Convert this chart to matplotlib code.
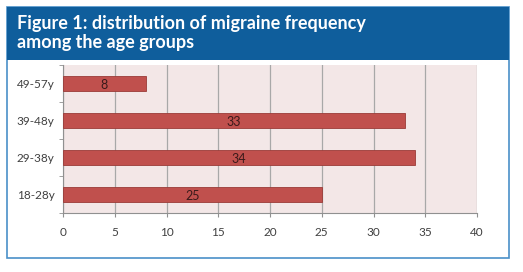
import matplotlib.pyplot as plt
from matplotlib.patches import Rectangle
import numpy as np

# data
age_groups = ["18-28y", "29-38y", "39-48y", "49-57y"]
counts = [25, 34, 33, 8]
x_ticks = [0, 5, 10, 15, 20, 25, 30, 35, 40]

W, H = 523, 272
fig = plt.figure(figsize=(W / 100, H / 100), dpi=100)
fig.patch.set_facecolor("white")

def fx(px):
    return px / W

def fy(py):
    return 1 - py / H

# outer panel with light blue border
fig.patches.append(Rectangle((fx(7), fy(258)), fx(502), (251) / H, transform=fig.transFigure,
                             facecolor="white", edgecolor="#4A90C8", lw=1.2, zorder=-2))
# header band
fig.patches.append(Rectangle((fx(7), fy(60)), fx(502), 53 / H, transform=fig.transFigure,
                             facecolor="#0F5E9C", edgecolor="none", zorder=-1))
fig.text(fx(17), fy(33), "Figure 1: distribution of migraine frequency\namong the age groups",
         color="white", fontsize=13, fontweight="bold", family="Lato",
         va="center", ha="left", linespacing=1.2)

ax = fig.add_axes([fx(63), fy(213), fx(477) - fx(63), (213 - 65) / H])
ax.set_zorder(2)
ax.set_facecolor("#F3E7E7")

y = np.arange(len(age_groups))
ax.barh(y, counts, height=0.4, color="#C0504D", edgecolor="#9A3B38", lw=0.6, zorder=3)
for yi, c in zip(y, counts):
    ax.text(c / 2, yi - 0.05, str(c), ha="center", va="center", fontsize=9,
            color="#3A1A1A", family="Lato", zorder=4)

ax.set_xlim(0, 40)
ax.set_ylim(-0.5, len(age_groups) - 0.5)
ax.set_xticks(x_ticks)
ax.set_xticklabels([str(t) for t in x_ticks], family="Lato", fontsize=8.5, color="#404040")
ax.set_yticks(y)
ax.set_yticklabels(age_groups, family="Lato", fontsize=8.5, color="#404040")
ax.set_yticks(np.arange(-0.5, len(age_groups)), minor=True)
ax.tick_params(axis="y", which="major", length=0, pad=6)
ax.tick_params(axis="y", which="minor", length=3, color="#909090")
ax.tick_params(axis="x", length=3, color="#909090", pad=7)
ax.grid(axis="x", color="#A8A8A8", lw=0.9, zorder=1)
for s in ["top", "right"]:
    ax.spines[s].set_visible(False)
for s in ["left", "bottom"]:
    ax.spines[s].set_color("#909090")
    ax.spines[s].set_linewidth(0.8)

fig.savefig("out.png", dpi=100)
